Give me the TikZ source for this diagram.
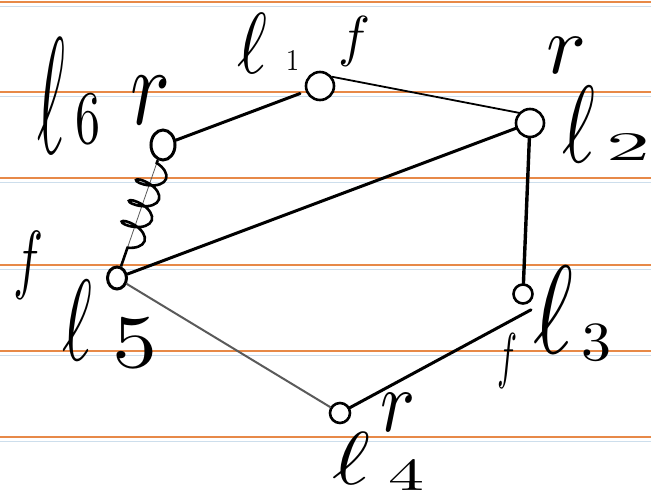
\documentclass[tikz,border=0pt]{standalone}
\usepackage{graphicx}
\usetikzlibrary{decorations.pathmorphing,shapes.geometric}
\definecolor{paperline}{RGB}{231,137,72}
\definecolor{paperblue}{RGB}{205,222,236}
\definecolor{inkgray}{RGB}{90,90,90}
\newcommand{\hw}[3]{\resizebox*{#1}{#2}{#3}}
\begin{document}
\begin{tikzpicture}[x=1pt,y=-1pt,
  joint/.style={circle, draw, line width=2.6pt, fill=white, inner sep=0pt},
  ovaljoint/.style={ellipse, draw, line width=3pt, fill=white, inner sep=0pt},
  link/.style={line width=3pt, line cap=round},
  thinlink/.style={line width=1.8pt, line cap=round},
  graylink/.style={line width=2pt, line cap=round, inkgray},
  spring/.style={line width=2.6pt, decorate, decoration={coil, aspect=0.45, segment length=22pt, amplitude=14pt, pre length=3pt, post length=3pt}},
  lab/.style={inner sep=0pt, anchor=base west},
  jmark/.style={inner sep=0pt}]
\useasboundingbox (0,0) rectangle (651,499);
\fill[white] (0,0) rectangle (651,499);
\foreach \yy in {2,92,178,265,351,437} {
  \draw[paperblue, line width=1pt] (0,\yy+4) -- (651,\yy+4);
  \draw[paperline, line width=2.6pt] (0,\yy) -- (651,\yy);
}
% joints
\node[ovaljoint, minimum width=24pt, minimum height=30pt] (l6) at (163,145) {};
\node[joint, minimum size=28pt] (l1) at (320,86) {};
\node[joint, minimum size=28pt] (l2) at (530,123) {};
\node[joint, minimum size=19pt] (l3) at (523,294) {};
\node[joint, minimum size=20pt] (l4) at (340,413) {};
\node[ovaljoint, minimum width=19pt, minimum height=22pt] (l5) at (117,278) {};
% links
\draw[link, shorten >=6pt] (l6) -- (l1);
\draw[thinlink] (l1.37) -- (l2.138);
\draw[link] (l5) -- (l2);
\draw[link, line width=3.4pt] (l2) -- (l3);
\draw[link] ([xshift=8pt,yshift=-5pt]l3.south) -- (l4);
\draw[graylink] (l5) -- (l4);
\draw[line width=0.8pt, inkgray] (l6) -- (l5);
\draw[spring] (l6) -- (l5);
% labels
\node[lab] (t6) at (37,153) {\hw{28pt}{115pt}{$\ell$}\kern10pt\raisebox{10pt}{\hw{25pt}{52pt}{6}}};
\node[lab] (t1) at (237,73) {\hw{30pt}{60pt}{$\ell$}\kern19pt\raisebox{3pt}{\hw{13pt}{20pt}{1}}};
\node[lab] (t2) at (562,162) {\hw{33pt}{76pt}{$\ell$}\kern11pt\raisebox{2pt}{\hw{44pt}{27pt}{2}}};
\node[lab] (t3) at (533,353) {\hw{40pt}{87pt}{$\ell$}\kern8pt\raisebox{-7pt}{\hw{30pt}{38pt}{3}}};
\node[lab] (t4) at (332,484) {\hw{38pt}{52pt}{$\ell$}\kern18pt\raisebox{-6pt}{\hw{36pt}{31pt}{4}}};
\node[lab] (t5) at (62,360) {\hw{30pt}{80pt}{$\ell$}\kern20pt\raisebox{-7pt}{\hw{45pt}{52pt}{5}}};
% joint marks
\node[jmark] (m1) at (355,41) {\hw{32pt}{50pt}{$f$}};
\node[jmark] (m3) at (507,361) {\hw{20pt}{55pt}{$f$}};
\node[jmark] (m5) at (29,265) {\hw{30pt}{68pt}{$f$}};
\node[jmark] (m6) at (150,100) {\hw{40pt}{48pt}{$r$}};
\node[jmark] (m2) at (566,55) {\hw{40pt}{36pt}{$r$}};
\node[jmark] (m4) at (398,412) {\hw{35pt}{38pt}{$r$}};
\end{tikzpicture}
\end{document}
